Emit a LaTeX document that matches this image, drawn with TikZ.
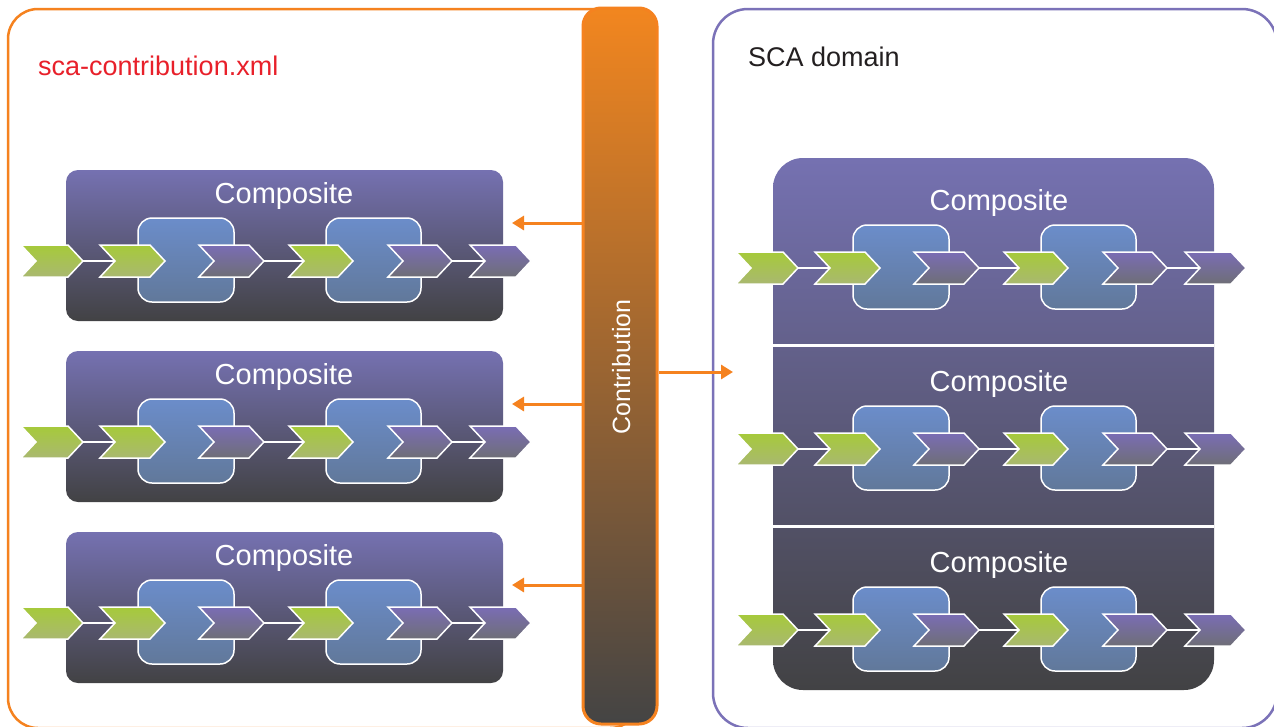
\documentclass[tikz,border=0pt]{standalone}
\usepackage{fontspec}
\setmainfont{Liberation Sans}
\usetikzlibrary{arrows.meta}
\definecolor{corange}{HTML}{F5821F}
\definecolor{cbartop}{HTML}{F2861F}
\definecolor{cbarmid}{HTML}{9C7658}
\definecolor{cbarbot}{HTML}{444444}
\definecolor{cpurple}{HTML}{7B72B8}
\definecolor{ctop}{HTML}{7571B1}
\definecolor{cbot}{HTML}{424244}
\definecolor{cboxtop}{HTML}{6B8DCA}
\definecolor{cboxbot}{HTML}{61789A}
\definecolor{cgrtop}{HTML}{A6CA3A}
\definecolor{cgrbot}{HTML}{A9B870}
\definecolor{cputop}{HTML}{7A6DB5}
\definecolor{cpubot}{HTML}{6E6E76}
\definecolor{cred}{HTML}{E8202A}
\definecolor{cdark}{HTML}{231F20}
\tikzset{
  comptitle/.style={text=white, font=\fontsize{29}{32}\selectfont, anchor=base, inner sep=0},
  compbg/.style={shading=axis, top color=ctop, bottom color=cbot, rounded corners=12, inner sep=0, minimum width=437, minimum height=151},
  compbox/.style={shading=axis, top color=cboxtop, bottom color=cboxbot, draw=white, line width=1.5, rounded corners=14, inner sep=0},
  greenchev/.style={shading=axis, top color=cgrtop, bottom color=cgrbot, draw=white, line width=1.5, line join=miter},
  purplechev/.style={shading=axis, top color=cputop, bottom color=cpubot, draw=white, line width=1.5, line join=miter},
  wline/.style={draw=white, line width=1.5},
  oarrow/.style={draw=corange, line width=3, -{Triangle[length=12, width=14]}},
}
\newcommand{\chevron}[5]{%
  \path[#5] (#2,#4-16) -- (#3-15,#4-16) -- (#3,#4) -- (#3-15,#4+16) -- (#2,#4+16) -- (#2+15,#4) -- cycle;
  \coordinate (#1-w) at (#2+15,#4);
  \coordinate (#1-e) at (#3,#4);%
}
\newcommand{\compcontent}[3]{%
  \begin{scope}[shift={(#2,#3)}]
    \node[comptitle] (#1-t) at (284,203) {Composite};
    \node[compbox, minimum width=96, minimum height=84] (#1-b1) at (186,260) {};
    \node[compbox, minimum width=95, minimum height=84] (#1-b2) at (373.5,260) {};
    \chevron{#1-c1}{21}{83}{261}{}
    \chevron{#1-c2}{100}{165}{261}{}
    \chevron{#1-c3}{199}{264}{261}{}
    \chevron{#1-c4}{289}{353}{261}{}
    \chevron{#1-c5}{388}{452}{261}{}
    \chevron{#1-c6}{470}{531}{261}{}
    \draw[wline] (#1-c1-e) -- (#1-c2-w);
    \draw[wline] (#1-c3-e) -- (#1-c4-w);
    \draw[wline] (#1-c5-e) -- (#1-c6-w);
    \chevron{#1-c1}{21}{83}{261}{greenchev}
    \chevron{#1-c2}{100}{165}{261}{greenchev}
    \chevron{#1-c3}{199}{264}{261}{purplechev}
    \chevron{#1-c4}{289}{353}{261}{greenchev}
    \chevron{#1-c5}{388}{452}{261}{purplechev}
    \chevron{#1-c6}{470}{531}{261}{purplechev}
  \end{scope}%
}
\begin{document}
\begin{tikzpicture}[x=1pt, y=-1pt]
\useasboundingbox (0,0) rectangle (1274,726);
\clip (0,0) rectangle (1274,726);
\fill[white] (0,0) rectangle (1274,726);
% containers
\node[draw=corange, line width=2.5, rounded corners=30, inner sep=0, minimum width=632, minimum height=719] (contrib) at (324,368.5) {};
\node[draw=cpurple, line width=2.5, rounded corners=35, inner sep=0, minimum width=564, minimum height=719] (domain) at (995,368.5) {};
\node[anchor=base west, inner sep=0, text=cred, font=\fontsize{27}{30}\selectfont] (cfile) at (38,75) {sca-contribution.xml};
\node[anchor=base west, inner sep=0, text=cdark, font=\fontsize{27}{30}\selectfont] (dtitle) at (748,66) {SCA domain};
% contribution bar
\node[draw=corange, line width=3, rounded corners=18, inner sep=0, minimum width=74, minimum height=716,
  shading=axis, top color=cbartop, middle color=cbarmid, bottom color=cbarbot] (bar) at (620,366) {};
\node[rotate=90, anchor=base, inner sep=0, text=white, font=\fontsize{25}{28}\selectfont] (barlabel) at (630,367) {Contribution};
% left composites
\node[compbg] (L1) at (284.5,245.5) {};
\node[compbg] (L2) at (284.5,426.5) {};
\node[compbg] (L3) at (284.5,607.5) {};
\compcontent{l1}{0}{0}
\compcontent{l2}{0}{181}
\compcontent{l3}{0}{362}
% right stack
\node[shading=axis, top color=ctop, bottom color=cbot, rounded corners=30, inner sep=0, minimum width=441, minimum height=532] (stack) at (993.5,424) {};
\coordinate (sep1) at (0,345.5);
\coordinate (sep2) at (0,526.5);
\draw[white, line width=3] (stack.west |- sep1) -- (stack.east |- sep1);
\draw[white, line width=3] (stack.west |- sep2) -- (stack.east |- sep2);
\compcontent{r1}{715}{7}
\compcontent{r2}{715}{188}
\compcontent{r3}{715}{369}
% arrows
\coordinate (a1) at (512,223);
\coordinate (a2) at (512,404);
\coordinate (a3) at (512,585);
\coordinate (a4) at (733,372);
\draw[oarrow] (bar.west |- a1) -- (a1);
\draw[oarrow] (bar.west |- a2) -- (a2);
\draw[oarrow] (bar.west |- a3) -- (a3);
\draw[oarrow] (bar.east |- a4) -- (a4);
\end{tikzpicture}
\end{document}
